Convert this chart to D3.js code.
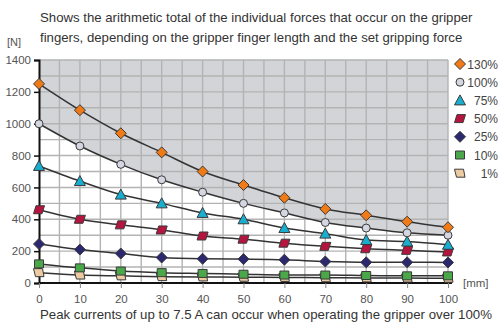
<!DOCTYPE html>
<html lang="en">
<head>
<meta charset="UTF-8">
<title>Gripper forces</title>
<script src="https://cdn.jsdelivr.net/npm/d3@7"></script>
<style>
  body { margin: 0; background: #fff; overflow: hidden; }
  text { font-family: "Liberation Sans", Arial, sans-serif; }
</style>
</head>
<body>
<div id="grafica"></div>
<script>
// finger length [mm]
lengths = [0, 10, 20, 30, 40, 50, 60, 70, 80, 90, 100]

// summed force [N] per set gripping force
f130 = [1250, 1085, 940, 820, 700, 615, 535, 465, 425, 385, 350]
f100 = [1000, 860, 745, 648, 570, 500, 440, 380, 345, 315, 300]
f75  = [735, 640, 555, 500, 440, 400, 345, 310, 270, 260, 240]
f50  = [460, 400, 365, 333, 295, 275, 250, 230, 215, 205, 195]
f25  = [245, 210, 185, 160, 152, 150, 146, 135, 130, 130, 129]
f10  = [120, 95, 75, 65, 60, 55, 50, 50, 47, 45, 45]
f1   = [65, 50, 45, 40, 38, 36, 35, 33, 32, 31, 30]

seriesNames = ['130%', '100%', '75%', '50%', '25%', '10%', '1%']
yTicks = [0, 200, 400, 600, 800, 1000, 1200, 1400]
xTicks = [0, 10, 20, 30, 40, 50, 60, 70, 80, 90, 100]

titleLines = ['Shows the arithmetic total of the individual forces that occur on the gripper',
              'fingers, depending on the gripper finger length and the set gripping force']
footnote = 'Peak currents of up to 7.5 A can occur when operating the gripper over 100%'

series = [
  { name: seriesNames[0], values: f130, shape: 'diamond', fill: '#f07a16' },
  { name: seriesNames[1], values: f100, shape: 'circle',  fill: '#d4d6e2' },
  { name: seriesNames[2], values: f75,  shape: 'triangle', fill: '#18aed0' },
  { name: seriesNames[3], values: f50,  shape: 'para',    fill: '#b5143f' },
  { name: seriesNames[4], values: f25,  shape: 'diamond', fill: '#2b2870' },
  { name: seriesNames[5], values: f10,  shape: 'square',  fill: '#4aa84a' },
  { name: seriesNames[6], values: f1,   shape: 'trap',    fill: '#eccaa2' }
]

ancho = 499
alto = 327
svg = d3.select('#grafica').append('svg')
        .attr('width', ancho)
        .attr('height', alto)

x = d3.scaleLinear().domain([0, 100]).range([39, 448])
y = d3.scaleLinear().domain([0, 1400]).range([283, 60])

// title
svg.selectAll('.title').data(titleLines).enter()
   .append('text')
   .attr('x', 40).attr('y', (d, i) => 22 + i * 20)
   .attr('font-size', 13.2).attr('fill', '#333')
   .text(d => d)

svg.append('text').attr('x', 7).attr('y', 46)
   .attr('font-size', 11).attr('fill', '#555').text('[N]')

// grey area above 100% curve
line = d3.line()
         .x((d, i) => x(lengths[i]))
         .y(d => y(d))
         .curve(d3.curveMonotoneX)

area = d3.area()
         .x((d, i) => x(lengths[i]))
         .y0(y(1400))
         .y1(d => y(d))
         .curve(d3.curveMonotoneX)

svg.append('path').attr('d', area(f100)).attr('fill', '#d3d4d8')

// grid
grid = svg.append('g').attr('stroke', '#b3b3b3').attr('stroke-width', 1.4)
grid.selectAll('.gx').data(d3.range(5, 101, 5)).enter()
    .append('line')
    .attr('x1', d => x(d)).attr('x2', d => x(d))
    .attr('y1', y(0)).attr('y2', y(1400))
grid.selectAll('.gy').data(d3.range(100, 1401, 100)).enter()
    .append('line')
    .attr('x1', x(0)).attr('x2', x(100))
    .attr('y1', d => y(d)).attr('y2', d => y(d))

// axes
yAxis = d3.axisLeft(y).tickValues(yTicks).tickFormat(d3.format('d')).tickSize(5).tickPadding(3)
gy = svg.append('g').attr('transform', 'translate(' + x(0) + ',0)').call(yAxis)
gy.select('.domain').attr('stroke', '#111').attr('stroke-width', 2)
gy.selectAll('.tick line').attr('stroke', '#111').attr('stroke-width', 1.5)
gy.selectAll('.tick text').attr('font-size', 11.5).attr('fill', '#555')
  .attr('font-family', '"Liberation Sans", Arial, sans-serif')

xAxis = d3.axisBottom(x).tickValues(xTicks).tickSize(5).tickPadding(7)
gx = svg.append('g').attr('transform', 'translate(0,' + y(0) + ')').call(xAxis)
gx.select('.domain').attr('d', 'M' + x(0) + ',0H452').attr('stroke', '#111').attr('stroke-width', 2)
gx.selectAll('.tick line').attr('stroke', '#888').attr('stroke-width', 1)
gx.selectAll('.tick text').attr('font-size', 11.5).attr('fill', '#555')
  .attr('font-family', '"Liberation Sans", Arial, sans-serif')

svg.append('text').attr('x', 463).attr('y', 287)
   .attr('font-size', 11.5).attr('fill', '#555').text('[mm]')

// marker shapes
function shapePath(shape, s) {
  if (shape == 'circle') return d3.symbol(d3.symbolCircle, s * s * 0.62)()
  if (shape == 'square') return 'M-4.5,-4H4.5V4H-4.5Z'
  if (shape == 'diamond') return 'M0,-5.5L5.5,0L0,5.5L-5.5,0Z'
  if (shape == 'triangle') return 'M0,-5.5L5.5,4.5H-5.5Z'
  if (shape == 'para') return 'M-3,-4H5.5L3,4H-5.5Z'
  if (shape == 'trap') return 'M-5.5,-4H3.5L5,4H-3.5Z'
}

// lines and markers
series.slice().reverse().forEach(function(s) {
  svg.append('path')
     .attr('d', line(s.values))
     .attr('fill', 'none')
     .attr('stroke', '#333')
     .attr('stroke-width', 1.5)
})

series.slice().reverse().forEach(function(s) {
  svg.selectAll(null).data(s.values).enter()
     .append('path')
     .attr('transform', (d, i) => 'translate(' + x(lengths[i]) + ',' + y(d) + ')')
     .attr('d', shapePath(s.shape, 9))
     .attr('fill', s.fill)
     .attr('stroke', '#3a3a3a')
     .attr('stroke-width', 1)
})

// legend
leg = svg.append('g')
series.forEach(function(s, i) {
  yy = 64 + i * 18.2
  leg.append('path')
     .attr('transform', 'translate(460,' + yy + ')')
     .attr('d', shapePath(s.shape, 9))
     .attr('fill', s.fill)
     .attr('stroke', '#3a3a3a')
  leg.append('text')
     .attr('x', 498).attr('y', yy + 4.5)
     .attr('text-anchor', 'end')
     .attr('font-size', 12).attr('fill', '#444')
     .text(s.name)
})

svg.append('text').attr('x', 40).attr('y', 319)
   .attr('font-size', 13.4).attr('fill', '#333')
   .attr('textLength', 452).attr('lengthAdjust', 'spacingAndGlyphs')
   .text(footnote)
</script>
</body>
</html>
